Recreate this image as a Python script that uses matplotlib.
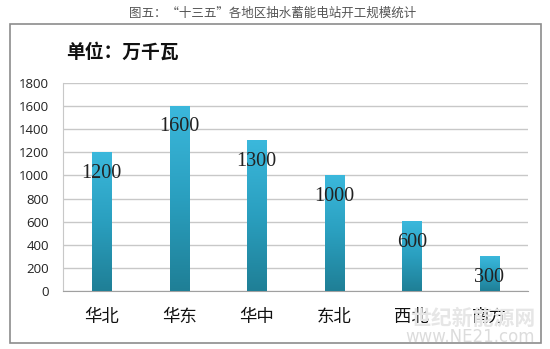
import numpy as np
import matplotlib.pyplot as plt
from matplotlib.patches import Rectangle
from matplotlib.colors import LinearSegmentedColormap

regions = ['华北', '华东', '华中', '东北', '西北', '南方']
capacity = [1200, 1600, 1300, 1000, 600, 300]
yticks = [0, 200, 400, 600, 800, 1000, 1200, 1400, 1600, 1800]

cjk = ['Noto Sans CJK SC', 'DejaVu Sans']

fig = plt.figure(figsize=(5.5, 3.49), dpi=100)

# outer frame around the chart
fig.patches.append(Rectangle((10 / 550, 1 - 343 / 349), 531 / 550, 319 / 349,
                             transform=fig.transFigure, fill=False,
                             edgecolor='#8c8c8c', linewidth=1.2))

fig.text(0.495, 1 - 13 / 349, '图五：“十三五”各地区抽水蓄能电站开工规模统计',
         ha='center', va='center', fontsize=9, color='#555555', family=cjk)
fig.text(66 / 550, 1 - 52 / 349, '单位：万千瓦', ha='left', va='center',
         fontsize=13.5, fontweight='bold', color='#111111', family=cjk)

ax = fig.add_axes([63 / 550, 1 - 291 / 349, 465 / 550, 208 / 349])
x = np.arange(len(regions))
width = 0.25

# vertical gradient for the bars
cmap = LinearSegmentedColormap.from_list('bar', ['#1f7f96', '#2a9fbf', '#3bb8dc'])
grad = np.linspace(0, 1, 256).reshape(-1, 1)
for xi, v in zip(x, capacity):
    ax.imshow(grad, cmap=cmap, aspect='auto', origin='lower',
              extent=(xi - width / 2, xi + width / 2, 0, v), zorder=3)
    ax.text(xi, v - 180, str(v), ha='center', va='center', fontsize=14.5,
            family='Liberation Serif', color='#222222', zorder=4)

ax.set_xlim(-0.5, len(regions) - 0.5)
ax.set_ylim(0, 1800)
ax.set_yticks(yticks)
ax.set_yticklabels([str(t) for t in yticks], fontsize=9.5, family='Open Sans', color='#222222')
ax.set_xticks(x)
ax.set_xticklabels(regions, fontsize=12.5, family=cjk, color='#111111')
ax.tick_params(axis='both', length=0)
ax.tick_params(axis='x', pad=12)
ax.tick_params(axis='y', pad=10)
ax.grid(axis='y', color='#c8c8c8', linewidth=1, zorder=0)
ax.set_axisbelow(True)
for s in ['top', 'right']:
    ax.spines[s].set_visible(False)
ax.spines['left'].set_color('#c8c8c8')
ax.spines['bottom'].set_color('#a0a0a0')

# watermark
fig.text(535 / 550, 1 - 318 / 349, '世纪新能源网', ha='right', va='center',
         fontsize=15, fontweight='bold', color='#e6e6e6', family=cjk, zorder=10)
fig.text(535 / 550, 1 - 337 / 349, 'www.NE21.com', ha='right', va='center',
         fontsize=12, color='#dcdcdc', family='DejaVu Sans', zorder=10)

fig.savefig('out.png', dpi=100)
